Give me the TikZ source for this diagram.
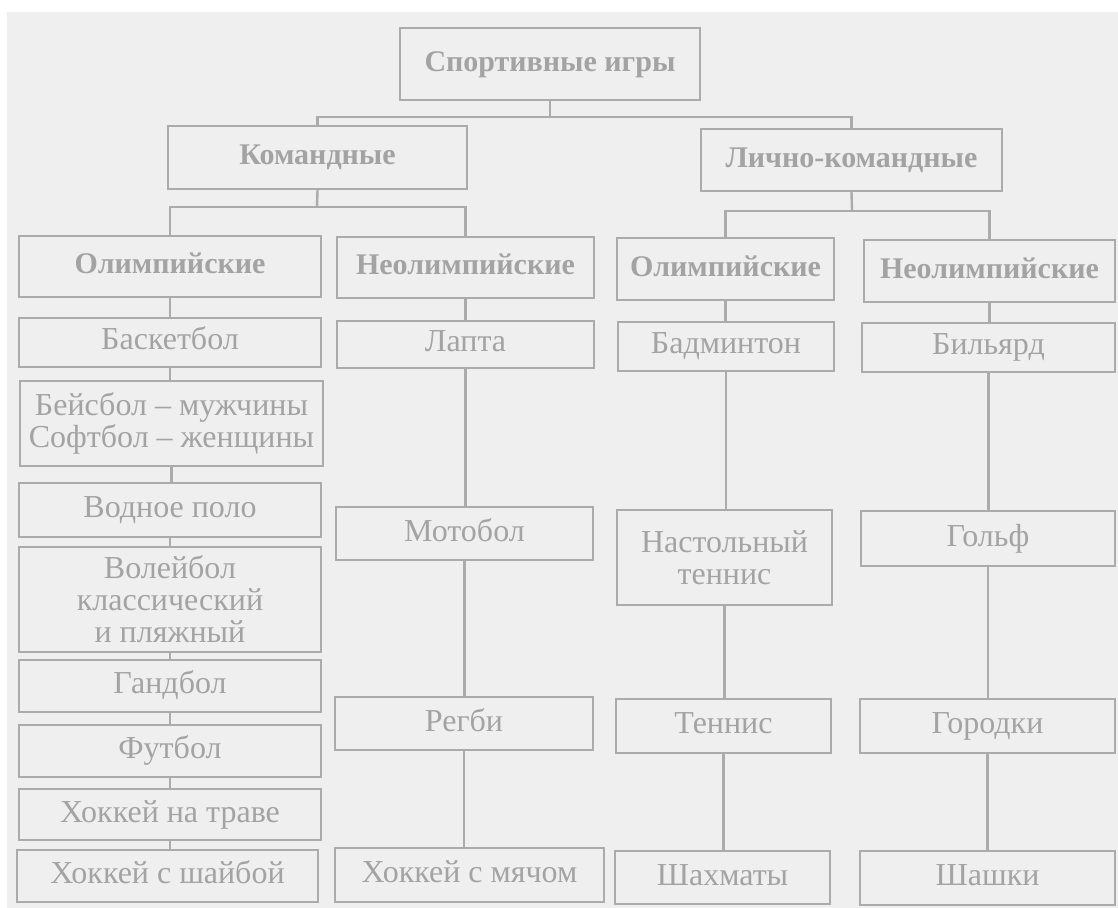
\documentclass[tikz,border=0pt]{standalone}
\usepackage{fontspec}
\setmainfont{Liberation Serif}
\definecolor{bgc}{HTML}{EFEFEF}
\definecolor{linec}{HTML}{ABABAB}
\definecolor{textc}{HTML}{A3A3A3}
\tikzset{
  box/.style={draw=linec, line width=1.2pt, inner sep=0pt, align=center,
    text=textc, font=\fontsize{16}{16}\selectfont,
    text height=11pt, text depth=3.5pt},
  mbox/.style={box, text height=, text depth=},
  hbox/.style={box, font=\fontsize{15}{15}\selectfont\bfseries},
  conn/.style={draw=linec, line width=1.2pt}
}
\newcommand\bx[7][box]{%
  \node[#1, minimum width={(#5-#3)*0.5pt}, minimum height={(#6-#4)*0.5pt}]
    (#2) at ({(#3+#5)/2},{(#4+#6)/2}) {#7};}
\begin{document}
\begin{tikzpicture}[x=0.5pt,y=-0.5pt]
\useasboundingbox (0,0) rectangle (1118,908);
\fill[white] (0,0) rectangle (1118,908);
\fill[bgc] (7,12) rectangle (1118,908);
% headers
\bx[hbox]{top}{400}{28}{700}{100}{Спортивные игры}
\bx[hbox]{kom}{168}{126}{467}{189}{Командные}
\bx[hbox]{lk}{701}{129}{1002}{191}{Лично-командные}
\bx[hbox]{o1}{19}{236}{321}{297}{Олимпийские}
\bx[hbox]{n1}{337}{237}{594}{298}{Неолимпийские}
\bx[hbox]{o2}{617}{238}{834}{300}{Олимпийские}
\bx[hbox]{n2}{864}{240}{1115}{302}{Неолимпийские}
% column 1
\bx{a1}{19}{318}{321}{367}{Баскетбол}
\bx[mbox]{a2}{20}{381}{323}{466}{Бейсбол – мужчины\\Софтбол – женщины}
\bx{a3}{19}{483}{321}{537}{Водное поло}
\bx[mbox]{a4}{19}{547}{321}{652}{Волейбол\\классический\\и пляжный}
\bx{a5}{19}{660}{321}{712}{Гандбол}
\bx{a6}{19}{725}{321}{777}{Футбол}
\bx{a7}{19}{789}{321}{840}{Хоккей на траве}
\bx{a8}{17}{850}{318}{902}{Хоккей с шайбой}
% column 2
\bx{b1}{337}{321}{594}{368}{Лапта}
\bx{b2}{336}{507}{593}{560}{Мотобол}
\bx{b3}{335}{697}{593}{750}{Регби}
\bx{b4}{335}{848}{604}{902}{Хоккей с мячом}
% column 3
\bx{c1}{618}{322}{834}{371}{Бадминтон}
\bx[mbox]{c2}{617}{510}{832}{605}{Настольный\\теннис}
\bx{c3}{616}{699}{831}{753}{Теннис}
\bx{c4}{615}{851}{830}{904}{Шахматы}
% column 4
\bx{d1}{862}{323}{1115}{372}{Бильярд}
\bx{d2}{861}{511}{1115}{566}{Гольф}
\bx{d3}{860}{699}{1115}{753}{Городки}
\bx{d4}{860}{851}{1115}{905}{Шашки}
% bus junctions
\coordinate (j0) at (550,117);
\coordinate (j1) at (317,207);
\coordinate (j2) at (852,211);
\draw[conn] (top.south) -- (j0);
\draw[conn] (kom.north) |- (j0) -| (lk.north);
\draw[conn] (kom.south) -- (j1);
\draw[conn] (o1.north) |- (j1) -| (n1.north);
\draw[conn] (lk.south) -- (j2);
\draw[conn] (o2.north) |- (j2) -| (n2.north);
% vertical chains
\foreach \u/\v in {o1/a1,a1/a2,a2/a3,a3/a4,a4/a5,a5/a6,a6/a7,a7/a8,
                   n1/b1,b1/b2,b2/b3,b3/b4,
                   o2/c1,c1/c2,c2/c3,c3/c4,
                   n2/d1,d1/d2,d2/d3,d3/d4}
  \draw[conn] (\u.south) -- (\u.south |- \v.north);
\end{tikzpicture}
\end{document}
